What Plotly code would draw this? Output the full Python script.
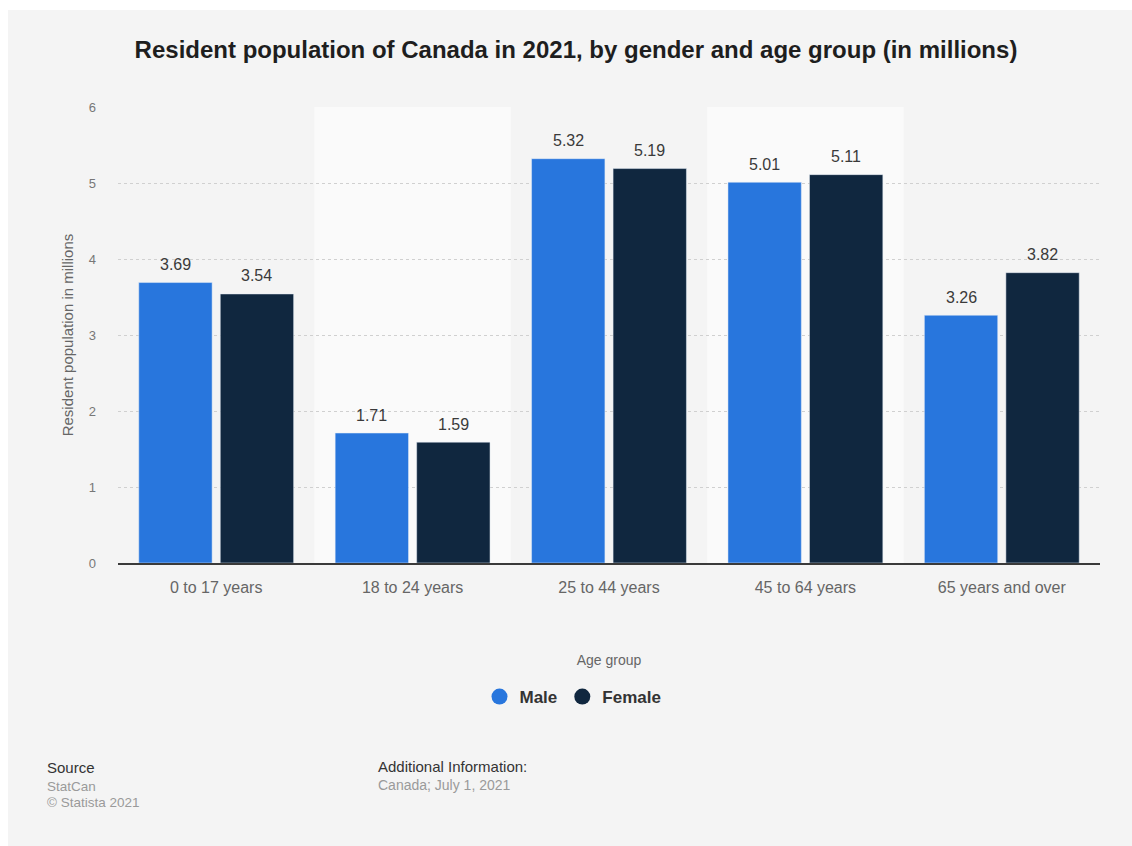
import plotly.graph_objects as go

categories = ["0 to 17 years", "18 to 24 years", "25 to 44 years", "45 to 64 years", "65 years and over"]
male = [3.69, 1.71, 5.32, 5.01, 3.26]
female = [3.54, 1.59, 5.19, 5.11, 3.82]
y_ticks = [0, 1, 2, 3, 4, 5, 6]

MALE_C = "#2876dd"
FEMALE_C = "#10273f"
BG = "#f4f4f4"
FONT = "Liberation Sans, Arial, Helvetica, sans-serif"

W, H = 1132, 846
L, R, T, B = 118, 32, 107, 283
PW, PH = W - L - R, H - T - B
BARGAP, GROUPGAP = 0.17, 0.1


def px(xp):
    # page pixel x -> paper coordinate
    return (xp - L) / PW


def py(yp):
    return (H - B - yp) / PH


fig = go.Figure()
fig.add_trace(go.Bar(name="Male", x=categories, y=male, marker=dict(color=MALE_C), showlegend=False))
fig.add_trace(go.Bar(name="Female", x=categories, y=female, marker=dict(color=FEMALE_C), showlegend=False))
# legend entries with round symbols
fig.add_trace(go.Scatter(name="Male", x=[None], y=[None], mode="markers",
                         marker=dict(symbol="circle", size=18, color=MALE_C)))
fig.add_trace(go.Scatter(name="Female", x=[None], y=[None], mode="markers",
                         marker=dict(symbol="circle", size=18, color=FEMALE_C)))

# value labels placed above each bar of the group
slot_px = PW / len(categories) * (1 - BARGAP) / 2
annotations = []
for series, sign in ((male, -1), (female, 1)):
    for c, v in zip(categories, series):
        annotations.append(dict(x=c, y=v, xref="x", yref="y", text=f"{v:.2f}", showarrow=False,
                                xshift=sign * slot_px / 2, yshift=18, yanchor="middle",
                                font=dict(size=16, color="#3a3a3a")))

# white page border (top and left) outside the grey card
shapes = [
    dict(type="rect", xref="paper", yref="paper", x0=px(0), x1=px(W), y0=py(10), y1=py(0),
         fillcolor="white", line=dict(width=0), layer="below"),
    dict(type="rect", xref="paper", yref="paper", x0=px(0), x1=px(8), y0=py(H), y1=py(0),
         fillcolor="white", line=dict(width=0), layer="below"),
]
for i in (1, 3):
    shapes.append(dict(type="rect", xref="x", yref="paper", x0=i - 0.5, x1=i + 0.5, y0=0, y1=1,
                       fillcolor="#fafafa", line=dict(width=0), layer="below"))

footer = [
    ("Source", 45, 767, 15, "#333333"),
    ("StatCan", 45, 786, 13.5, "#9a9a9a"),
    ("© Statista 2021", 45, 802, 13.5, "#9a9a9a"),
    ("Additional Information:", 376, 766, 15, "#333333"),
    ("Canada; July 1, 2021", 376, 785, 14, "#9a9a9a"),
]
for text, x, y, size, color in footer:
    annotations.append(dict(text=text, x=px(x), y=py(y), xref="paper", yref="paper", showarrow=False,
                            xanchor="left", yanchor="middle", font=dict(size=size, color=color)))

fig.update_layout(
    width=W, height=H,
    margin=dict(l=L, r=R, t=T, b=B, autoexpand=False),
    paper_bgcolor=BG, plot_bgcolor=BG,
    font=dict(family=FONT, color="#666666"),
    title=dict(text="<b>Resident population of Canada in 2021, by gender and age group (in millions)</b>",
               x=576 / W, xanchor="center", y=1 - 50 / H, yanchor="middle",
               font=dict(size=24, color="#1e1e1e", family=FONT)),
    barmode="group", bargap=BARGAP, bargroupgap=GROUPGAP,
    showlegend=True,
    legend=dict(orientation="h", x=px(573), xanchor="center", y=py(697), yanchor="middle",
                font=dict(size=17, color="#333333", family=FONT, weight="bold"),
                bgcolor="rgba(0,0,0,0)", itemwidth=30, tracegroupgap=0),
    shapes=shapes,
    annotations=annotations,
)
fig.update_xaxes(
    type="category", showgrid=False, showline=True, linecolor="#3a3a3a", linewidth=2,
    tickfont=dict(size=16, color="#666666"), ticks="", ticklabelstandoff=9,
    title=dict(text="Age group", font=dict(size=14, color="#666666"), standoff=60),
    fixedrange=True,
)
fig.update_yaxes(
    range=[0, 6], tickvals=y_ticks, showgrid=True, gridcolor="#d0d0d0", griddash="dot", gridwidth=1,
    zeroline=False, showline=False, tickfont=dict(size=13, color="#777777"), ticklabelstandoff=21,
    title=dict(text="Resident population in millions", font=dict(size=15, color="#666666"), standoff=11),
    fixedrange=True,
)

fig.write_html(
    "out.html",
    config={"displayModeBar": False},
    post_script="document.body.style.margin='0';document.documentElement.style.overflow='hidden';",
)
